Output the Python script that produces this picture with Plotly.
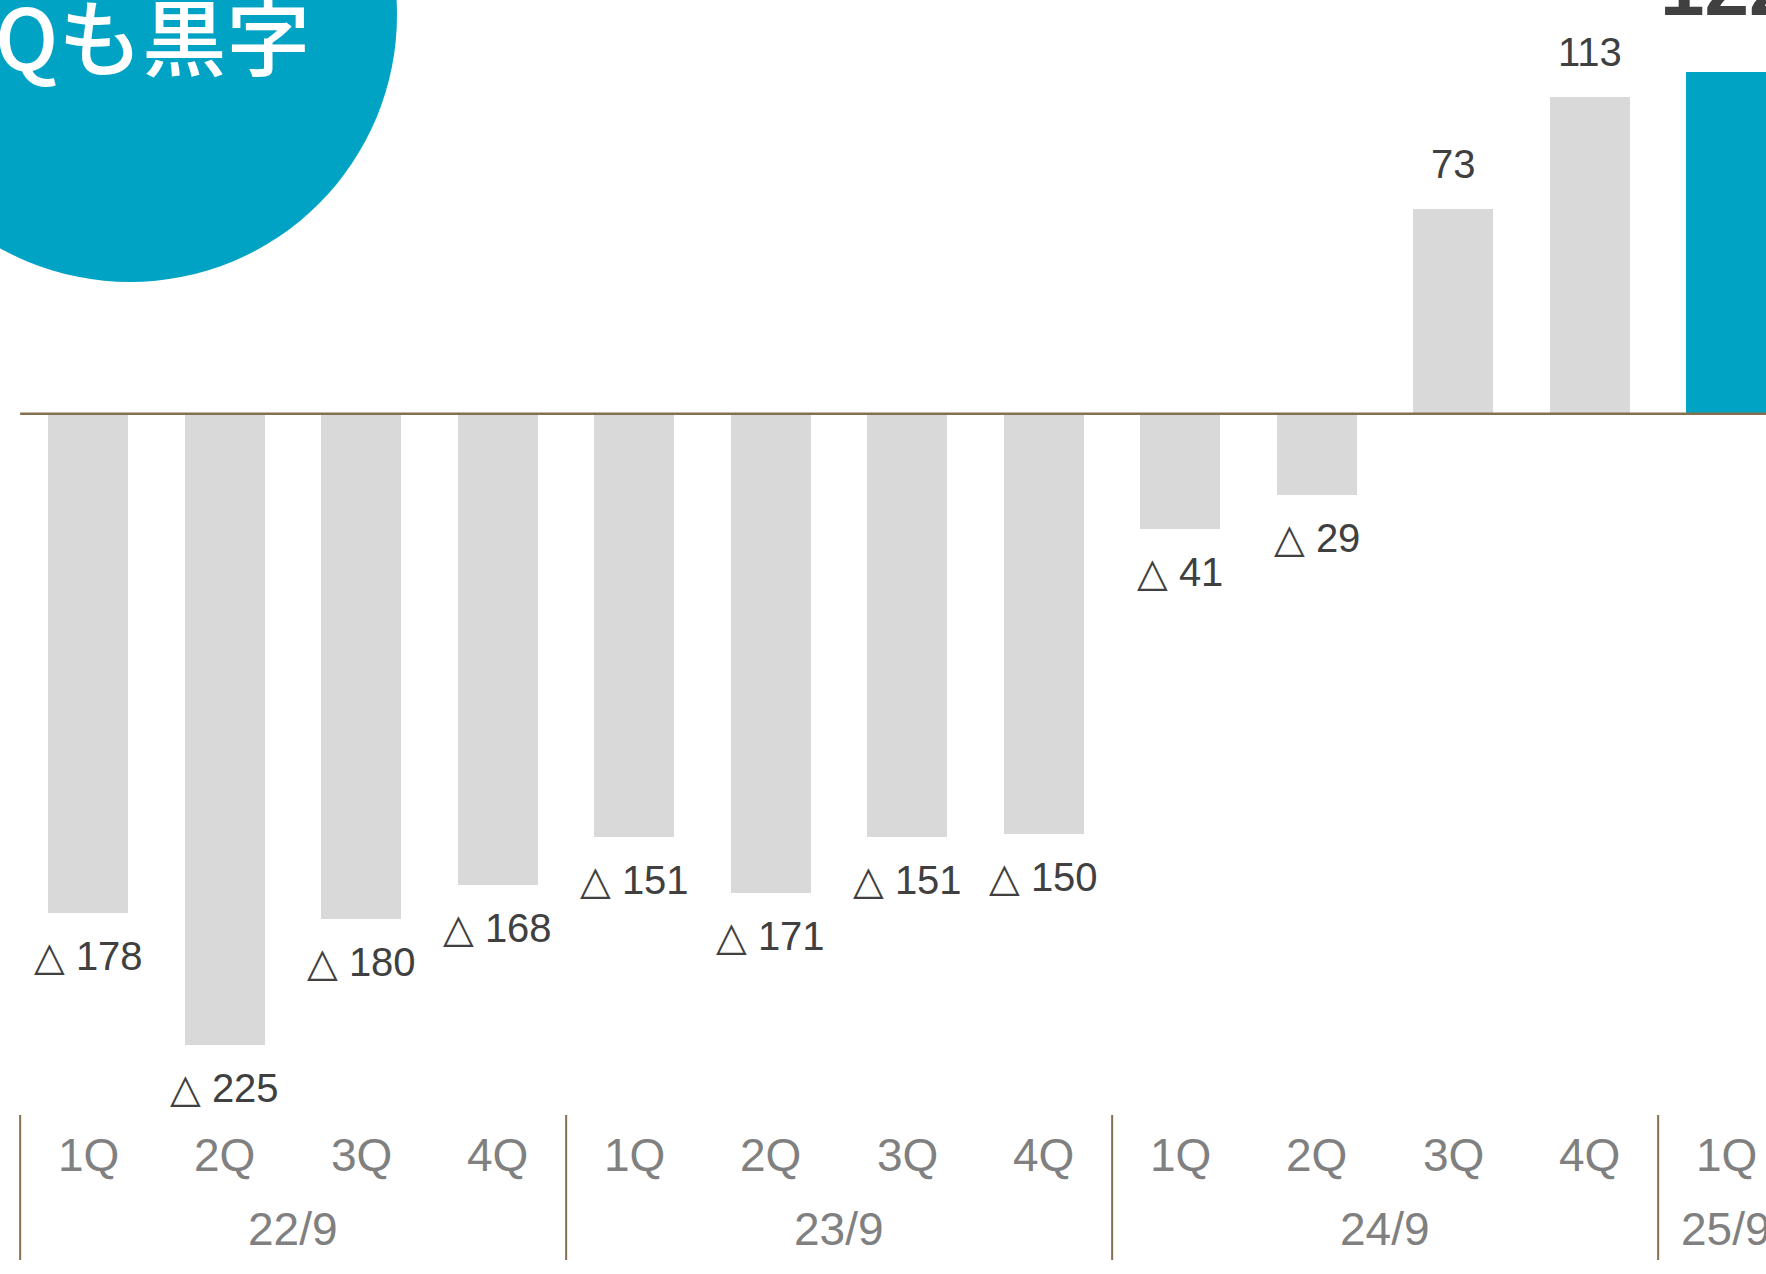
import plotly.graph_objects as go

# ---- data ----
quarters = ["1Q", "2Q", "3Q", "4Q", "1Q", "2Q", "3Q", "4Q", "1Q", "2Q", "3Q", "4Q", "1Q"]
years = ["22/9", "23/9", "24/9", "25/9"]
year_start_idx = [0, 4, 8, 12]
values = [-178, -225, -180, -168, -151, -171, -151, -150, -41, -29, 73, 113, 122]
highlight_idx = 12
headline = "Qも黒字"

W, H = 1766, 1274
GRAY = "#D9D9D9"
BLUE = "#00A3C4"
BROWN = "#84704F"
LABEL = "#404040"
AXIS = "#808080"
FONT = "Liberation Sans Narrow, Liberation Sans, DejaVu Sans, sans-serif"

x = list(range(len(values)))
colors = [BLUE if i == highlight_idx else GRAY for i in x]

fig = go.Figure()
fig.add_trace(go.Bar(x=x, y=values, marker=dict(color=colors, line=dict(width=0)),
                     width=0.586, hoverinfo="skip"))

# pixel mapping: x px = 88.4 + 136.5*i ; zero at 413.8 px, 2.804 px/unit
x_range = [(0 - 88.4) / 136.5, (W - 88.4) / 136.5]
ppu = 2.804
zero_px = 413.8
y_range = [-(H - zero_px) / ppu, zero_px / ppu]

annotations = []
for i, v in enumerate(values):
    if i == highlight_idx:
        annotations.append(dict(x=i, y=v, xref="x", yref="y", text=f"<b>{v}</b>",
                                showarrow=False, yanchor="middle", yshift=84,
                                font=dict(family="Liberation Sans, sans-serif", size=80, color=LABEL)))
        continue
    if v < 0:
        txt = f"△ {abs(v)}"
        shift = -43
    else:
        txt = f"{v}"
        shift = 45
    annotations.append(dict(x=i, y=v, xref="x", yref="y", text=txt, showarrow=False,
                            yanchor="middle", yshift=shift,
                            font=dict(family=FONT, size=40, color=LABEL)))

# quarter labels
for i, q in enumerate(quarters):
    annotations.append(dict(x=i, y=1 - 1155 / H, xref="x", yref="paper", text=q,
                            showarrow=False, yanchor="middle",
                            font=dict(family=FONT, size=46, color=AXIS)))
# year labels
for k, yl in enumerate(years):
    s = year_start_idx[k]
    last = k + 1 == len(year_start_idx)
    if not last:
        e = year_start_idx[k + 1] - 1
        annotations.append(dict(x=(s + e) / 2, y=1 - 1229 / H, xref="x", yref="paper", text=yl,
                                showarrow=False, yanchor="middle", xanchor="center",
                                font=dict(family=FONT, size=46, color=AXIS)))
    else:
        annotations.append(dict(x=s, y=1 - 1229 / H, xref="x", yref="paper", text=yl,
                                showarrow=False, yanchor="middle", xanchor="left", xshift=-47,
                                font=dict(family=FONT, size=46, color=AXIS)))

# headline text in circle
annotations.append(dict(x=312 / W, y=1 - 34 / H, xref="paper", yref="paper", text=headline,
                        showarrow=False, xanchor="right", yanchor="middle",
                        font=dict(family="Noto Sans CJK JP, sans-serif", size=84, color="white",
                                  weight=500)))

shapes = []
# circle
cx, cy, r = 130, 15, 267
shapes.append(dict(type="circle", xref="paper", yref="paper",
                   x0=(cx - r) / W, x1=(cx + r) / W,
                   y0=1 - (cy + r) / H, y1=1 - (cy - r) / H,
                   fillcolor=BLUE, line=dict(width=0), layer="below"))
# zero line
shapes.append(dict(type="line", xref="x", yref="y", x0=-0.5, x1=13, y0=0, y1=0,
                   line=dict(color=BROWN, width=2.5), layer="above"))
# year separators
for s in year_start_idx:
    shapes.append(dict(type="line", xref="x", yref="paper", x0=s - 0.5, x1=s - 0.5,
                       y0=1 - 1260 / H, y1=1 - 1115 / H,
                       line=dict(color=BROWN, width=2)))

fig.update_layout(
    width=W, height=H,
    margin=dict(l=0, r=0, t=0, b=0),
    paper_bgcolor="white", plot_bgcolor="white",
    showlegend=False,
    xaxis=dict(range=x_range, visible=False, fixedrange=True),
    yaxis=dict(range=y_range, visible=False, fixedrange=True),
    annotations=annotations,
    shapes=shapes,
    bargap=0,
)

fig.write_html("out.html", config={"displayModeBar": False})
